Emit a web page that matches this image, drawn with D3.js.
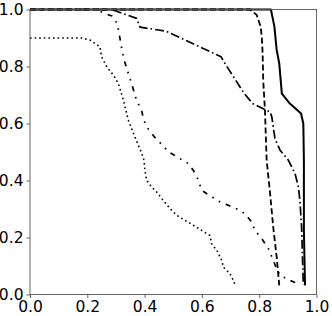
<!DOCTYPE html>
<html>
<head>
<meta charset="utf-8">
<script src="https://cdn.jsdelivr.net/npm/d3@7"></script>
<style>
  body { margin: 0; background: #fff; }
  svg { display: block; }
  .tick text { font-family: "DejaVu Sans", sans-serif; font-size: 15.5px; fill: #000; }
</style>
</head>
<body>
<div id="chart"></div>
<script>
// curves, [x, y]
const solidPts = [[0, 1.0], [0.841, 1.0], [0.853, 0.94], [0.861, 0.858], [0.870, 0.811], [0.875, 0.752],
    [0.879, 0.705], [0.907, 0.670], [0.946, 0.635], [0.954, 0.600], [0.956, 0.471], [0.956, 0.225], [0.960, 0.032]];
const dashedPts = [[0, 1.0], [0.768, 1.0], [0.791, 0.981], [0.805, 0.940], [0.809, 0.904], [0.812, 0.846],
    [0.814, 0.752], [0.820, 0.647], [0.826, 0.471], [0.838, 0.355], [0.849, 0.236], [0.861, 0.131], [0.870, 0.032]];
const dashDotPts = [[0, 1.0], [0.285, 1.0], [0.372, 0.969], [0.384, 0.938], [0.475, 0.924], [0.667, 0.834],
    [0.684, 0.805], [0.748, 0.705], [0.777, 0.670], [0.820, 0.649], [0.838, 0.641], [0.844, 0.623],
    [0.855, 0.547], [0.873, 0.506], [0.902, 0.471], [0.925, 0.424], [0.937, 0.377], [0.942, 0.330],
    [0.948, 0.237], [0.954, 0.033]];
const dashDotDotPts = [[0, 1.0], [0.230, 1.0], [0.259, 0.987], [0.286, 0.977], [0.305, 0.951], [0.312, 0.910],
    [0.321, 0.858], [0.332, 0.811], [0.353, 0.745], [0.372, 0.682], [0.390, 0.643], [0.398, 0.609],
    [0.413, 0.580], [0.436, 0.551], [0.463, 0.523], [0.486, 0.499], [0.518, 0.480], [0.550, 0.461],
    [0.570, 0.436], [0.587, 0.403], [0.599, 0.366], [0.626, 0.348], [0.657, 0.328], [0.692, 0.313],
    [0.721, 0.301], [0.750, 0.284], [0.774, 0.254], [0.785, 0.225], [0.809, 0.196], [0.832, 0.161],
    [0.849, 0.120], [0.861, 0.090], [0.873, 0.067], [0.908, 0.049], [0.937, 0.038]];
const dottedPts = [[0, 0.900], [0.180, 0.900], [0.209, 0.893], [0.244, 0.869], [0.250, 0.834], [0.268, 0.799],
    [0.291, 0.770], [0.308, 0.741], [0.326, 0.682], [0.343, 0.612], [0.366, 0.553], [0.390, 0.495],
    [0.398, 0.471], [0.401, 0.436], [0.407, 0.401], [0.425, 0.377], [0.442, 0.360], [0.465, 0.330],
    [0.489, 0.301], [0.512, 0.278], [0.541, 0.260], [0.570, 0.243], [0.599, 0.225], [0.628, 0.207],
    [0.634, 0.178], [0.652, 0.155], [0.669, 0.120], [0.675, 0.096], [0.698, 0.073], [0.710, 0.049],
    [0.716, 0.032]];
const tickValues = [0, 0.2, 0.4, 0.6, 0.8, 1.0];

const series = [
    { pts: dottedPts, dash: "1.6,3", width: 1.6 },
    { pts: dashDotDotPts, dash: "5,6,1.6,6,1.6,6", width: 1.7 },
    { pts: dashDotPts, dash: "9,3,1.6,3", width: 1.7 },
    { pts: dashedPts, dash: "6,3", width: 1.8 },
    { pts: solidPts, dash: null, width: 2 }
];

const width = 332, height = 316;
const margin = {top: 9.5, right: 15.5, bottom: 21.5, left: 30};
const w = width - margin.left - margin.right;
const h = height - margin.top - margin.bottom;

const x = d3.scaleLinear().domain([0, 1]).range([0, w]);
const y = d3.scaleLinear().domain([0, 1]).range([h, 0]);

const svg = d3.select('#chart').append('svg')
    .attr('width', width)
    .attr('height', height)
    .append('g')
    .attr('transform', `translate(${margin.left},${margin.top})`);

const line = d3.line().x(d => x(d[0])).y(d => y(d[1]));

series.forEach(s => {
    svg.append('path')
        .attr('d', line(s.pts))
        .attr('fill', 'none')
        .attr('stroke', '#000')
        .attr('stroke-width', s.width)
        .attr('stroke-dasharray', s.dash)
        .attr('stroke-linejoin', 'round');
});

// frame
svg.append('rect')
    .attr('width', w)
    .attr('height', h)
    .attr('fill', 'none')
    .attr('stroke', '#555')
    .attr('stroke-width', 0.9);

const fmt = d3.format('.1f');
const xAxis = svg.append('g')
    .attr('transform', `translate(0,${h})`)
    .call(d3.axisBottom(x).tickValues(tickValues).tickFormat(fmt).tickSize(3.5).tickPadding(3));
const yAxis = svg.append('g')
    .call(d3.axisLeft(y).tickValues(tickValues).tickFormat(fmt).tickSize(3.5).tickPadding(3));
[xAxis, yAxis].forEach(a => {
    a.select('.domain').remove();
    a.selectAll('line').attr('stroke', '#555').attr('stroke-width', 0.9);
});
</script>
</body>
</html>
